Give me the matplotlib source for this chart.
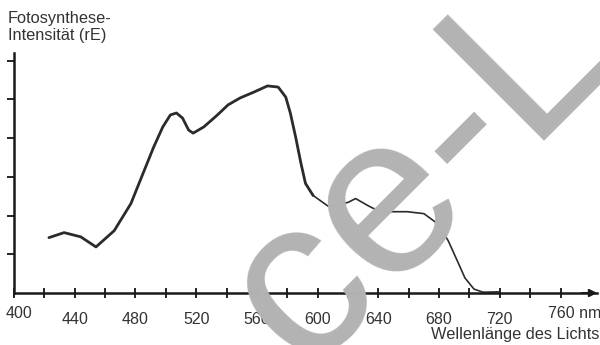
import matplotlib
matplotlib.use("Agg")
import matplotlib.pyplot as plt
import matplotlib.transforms as mtransforms

plt.rcParams['font.family'] = ['Liberation Sans', 'DejaVu Sans']

# values (wavelength in nm, intensity in tick units)
wavelength = [423, 433, 444, 454, 466, 477, 485, 492, 498, 503, 507, 511, 515, 518,
              525, 534, 541, 549, 558, 567, 574, 579, 582, 585.5, 589, 592, 597,
              607, 620, 625, 633, 641, 659, 670, 679, 686, 692, 697, 703, 709, 720]
intensity = [1.43, 1.56, 1.45, 1.19, 1.61, 2.31, 3.09, 3.77, 4.29, 4.60, 4.65, 4.52, 4.21, 4.13,
             4.29, 4.60, 4.86, 5.04, 5.19, 5.35, 5.32, 5.06, 4.65, 4.03, 3.35, 2.83, 2.52,
             2.24, 2.34, 2.44, 2.26, 2.10, 2.10, 2.05, 1.79, 1.35, 0.83, 0.39, 0.10, 0.02, 0.03]
x_ticks = list(range(400, 761, 20))
x_labels = ["440", "480", "520", "560", "600", "640", "680", "720"]
y_ticks = [1, 2, 3, 4, 5, 6]

ink = "#2b2b2b"
txt = "#333333"

fig = plt.figure(figsize=(6, 3.45), dpi=100)
ax = fig.add_axes([14 / 600, 52 / 345, 583 / 600, 240 / 345])

# thick part of the curve, then the thinner red-light tail
split = wavelength.index(597)
ax.plot(wavelength[:split + 1], intensity[:split + 1], color=ink, lw=2.0, solid_capstyle='round')
ax.plot(wavelength[split:], intensity[split:], color=ink, lw=1.2)

ax.set_xlim(400, 784)
ax.set_ylim(0, 6.2)
for s in ['top', 'right']:
    ax.spines[s].set_visible(False)
for s in ['left', 'bottom']:
    ax.spines[s].set_linewidth(1.8)
    ax.spines[s].set_color("#1a1a1a")

ax.annotate('', xy=(786, 0), xytext=(772, 0),
            arrowprops=dict(arrowstyle='-|>', color="#1a1a1a", lw=1.5, mutation_scale=11),
            annotation_clip=False)

ax.set_xticks(x_ticks)
ax.set_xticklabels([str(t) if str(t) in x_labels else "" for t in x_ticks])
ax.tick_params(axis='x', direction='inout', length=7, width=1.2, pad=10,
               labelsize=11.5, labelcolor=txt)
ax.set_yticks(y_ticks)
ax.set_yticklabels([])
ax.tick_params(axis='y', direction='out', length=5, width=1.2)

# first and last labels sit a little off their ticks
first = mtransforms.offset_copy(ax.get_xaxis_transform(), fig, x=-8, y=-21, units='dots')
ax.text(400, 0, "400", transform=first, ha='left', va='center', fontsize=11.5, color=txt)
last = mtransforms.offset_copy(ax.get_xaxis_transform(), fig, x=-13, y=-21, units='dots')
ax.text(760, 0, "760 nm", transform=last, ha='left', va='center', fontsize=11.5, color=txt)

fig.text(0.999, (345 - 335) / 345, "Wellenlänge des Lichts", ha='right', va='center',
         fontsize=11.8, color=txt)
fig.text(8 / 600, 1 - 11 / 345, "Fotosynthese-\nIntensität (rE)", ha='left', va='top',
         fontsize=11.8, color=txt, linespacing=1.2)

# grey watermark lying over the chart
fig.text(304 / 600, (345 - 372) / 345, "ce-L", rotation=45, rotation_mode='anchor',
         ha='left', va='baseline', fontsize=165, color="#b3b3b3", zorder=10)

fig.savefig("out.png", dpi=100)
